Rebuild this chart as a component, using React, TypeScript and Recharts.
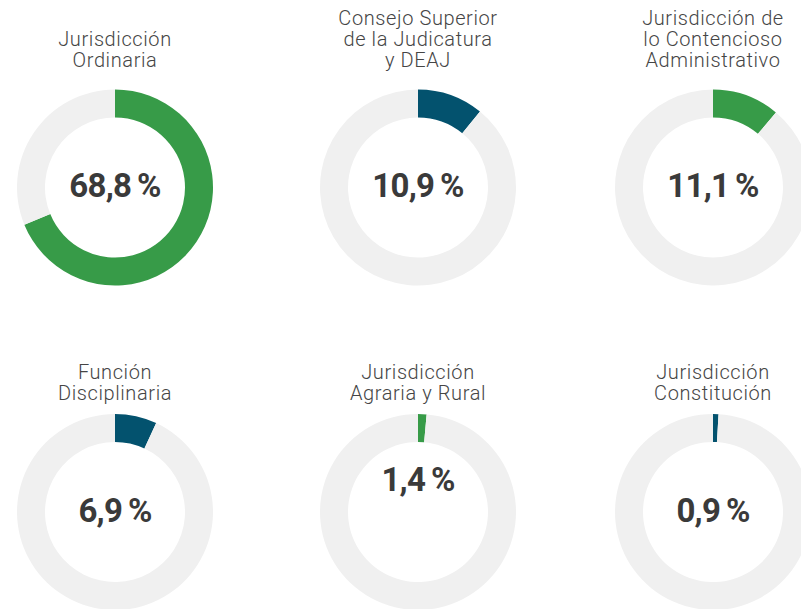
import { PieChart, Pie, Cell } from "recharts";

// share of budget per jurisdiction (%)
const titles: string[][] = [
  ["Jurisdicción", "Ordinaria"],
  ["Consejo Superior", "de la Judicatura", "y DEAJ"],
  ["Jurisdicción de", "lo Contencioso", "Administrativo"],
  ["Función", "Disciplinaria"],
  ["Jurisdicción", "Agraria y Rural"],
  ["Jurisdicción", "Constitución"],
];
const shares = [68.8, 10.9, 11.1, 6.9, 1.4, 0.9];
const colors = ["#379b48", "#03526e", "#379b48", "#03526e", "#379b48", "#03526e"];

const TRACK = "#f0f0f0";

// layout of the 3x2 grid
const centers = [
  { x: 115, y: 187.5, titleBottom: 71, labelDy: -2 },
  { x: 418, y: 187.5, titleBottom: 71, labelDy: -2 },
  { x: 713, y: 187.5, titleBottom: 71, labelDy: -2 },
  { x: 115, y: 512, titleBottom: 404, labelDy: -1 },
  { x: 418, y: 512, titleBottom: 404, labelDy: -32 },
  { x: 713, y: 512, titleBottom: 404, labelDy: -1 },
];

const fmt = (v: number) => v.toFixed(1).replace(".", ",") + "\u2009%";

export default function App() {
  const W = 801;
  const H = 609;
  const lineH = 21;

  return (
    <div
      style={{
        position: "absolute",
        left: 0,
        top: 0,
        width: W,
        height: H,
        background: "#fff",
        overflow: "hidden",
        fontFamily: "Roboto, sans-serif",
      }}
    >
      <PieChart width={W} height={H} margin={{ top: 0, right: 0, bottom: 0, left: 0 }}>
        {shares.map((v, i) => (
          <Pie
            key={i}
            data={[
              { name: "share", value: v },
              { name: "rest", value: 100 - v },
            ]}
            dataKey="value"
            cx={centers[i].x}
            cy={centers[i].y}
            innerRadius={70}
            outerRadius={98}
            startAngle={90}
            endAngle={-270}
            stroke="none"
            isAnimationActive={false}
          >
            <Cell fill={colors[i]} stroke="none" />
            <Cell fill={TRACK} stroke="none" />
          </Pie>
        ))}
      </PieChart>

      {titles.map((lines, i) => (
        <div
          key={"t" + i}
          style={{
            position: "absolute",
            left: centers[i].x - 120,
            width: 240,
            top: centers[i].titleBottom - lines.length * lineH,
            textAlign: "center",
            fontSize: 20,
            lineHeight: lineH + "px",
            fontWeight: 300,
            letterSpacing: 0.6,
            color: "#454545",
            whiteSpace: "nowrap",
          }}
        >
          {lines.map((l, j) => (
            <div key={j}>{l}</div>
          ))}
        </div>
      ))}

      {shares.map((v, i) => (
        <div
          key={"v" + i}
          style={{
            position: "absolute",
            left: centers[i].x - 70,
            width: 140,
            top: centers[i].y + centers[i].labelDy - 20,
            height: 40,
            lineHeight: "40px",
            textAlign: "center",
            fontSize: 33,
            fontWeight: 700,
            color: "#3a3a3a",
            letterSpacing: -0.8,
          }}
        >
          {fmt(v)}
        </div>
      ))}
    </div>
  );
}
